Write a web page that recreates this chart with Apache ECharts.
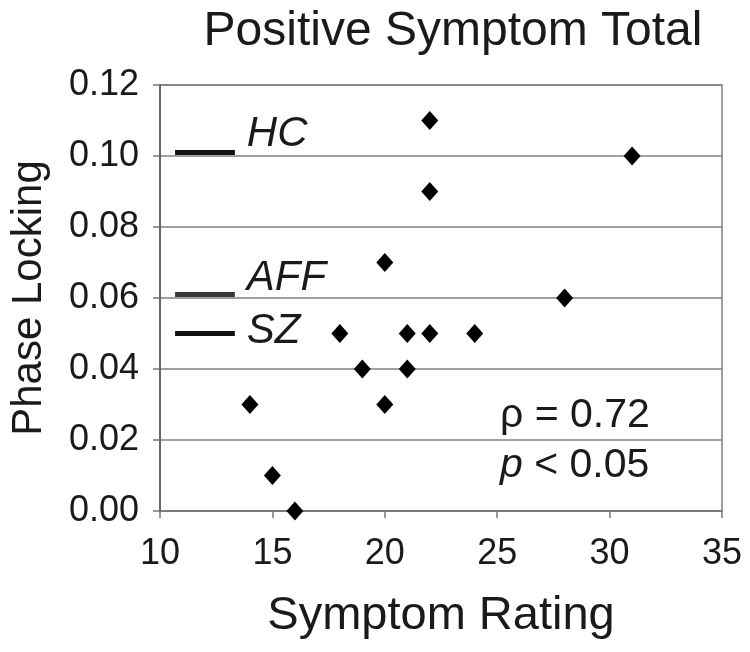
<!DOCTYPE html>
<html>
<head>
<meta charset="utf-8">
<script src="https://cdn.jsdelivr.net/npm/echarts@6/dist/echarts.min.js"></script>
<style>
html,body{margin:0;padding:0;background:#fff;}
#chart{width:750px;height:652px;}
</style>
</head>
<body>
<div id="chart"></div>
<script>
// ---- data ----
const symptomRating = [22, 22, 31, 20, 28, 18, 21, 22, 24, 19, 21, 14, 20, 15, 16];
const phaseLocking  = [0.11, 0.09, 0.10, 0.07, 0.06, 0.05, 0.05, 0.05, 0.05, 0.04, 0.04, 0.03, 0.03, 0.01, 0.00];
const groupNames = ['HC', 'AFF', 'SZ'];
const groupMeans = [0.101, 0.061, 0.050];
const groupColors = ['#111111', '#3a3a3a', '#111111'];
const meanSegmentX = [10.67, 13.33];
const xTickValues = [10, 15, 20, 25, 30, 35];
const yTickValues = [0.00, 0.02, 0.04, 0.06, 0.08, 0.10, 0.12];
const statRho = 'ρ = 0.72';
const statP = ' < 0.05';

const FONT = "'Liberation Sans', Arial, Helvetica, sans-serif";
const labelOffsets = { HC: -18, AFF: -16, SZ: -2 };

const chart = echarts.init(document.getElementById('chart'), null, { renderer: 'canvas' });

const meanSeries = groupNames.map((g, i) => ({
  name: g,
  type: 'line',
  data: meanSegmentX.map(x => [x, groupMeans[i]]),
  symbol: 'none',
  lineStyle: { color: groupColors[i], width: 5 },
  silent: true,
  z: 3,
  endLabel: {
    show: true,
    distance: 12,
    offset: [0, labelOffsets[g]],
    formatter: g,
    fontFamily: FONT,
    fontStyle: 'italic',
    fontSize: 42,
    color: '#1a1a1a'
  }
}));

chart.setOption({
  animation: false,
  backgroundColor: '#ffffff',
  title: {
    text: 'Positive Symptom Total',
    left: 448,
    top: 3,
    textAlign: 'center',
    textStyle: { fontFamily: FONT, fontSize: 48, fontWeight: 'normal', color: '#1a1a1a' }
  },
  grid: {
    left: 160, right: 28, top: 85, bottom: 141,
    show: true, borderColor: '#808080', borderWidth: 1.5, backgroundColor: 'transparent'
  },
  xAxis: {
    type: 'value',
    min: xTickValues[0], max: xTickValues[xTickValues.length - 1], interval: 5,
    name: 'Symptom Rating',
    nameLocation: 'middle',
    nameGap: 82,
    nameTextStyle: { fontFamily: FONT, fontSize: 47, color: '#1a1a1a' },
    axisLine: { show: true, onZero: false, lineStyle: { color: '#777777', width: 1.5 } },
    axisTick: { show: true, inside: false, length: 7, lineStyle: { color: '#777777', width: 1.5 } },
    axisLabel: { margin: 25, fontFamily: FONT, fontSize: 36, color: '#1a1a1a' },
    splitLine: { show: false }
  },
  yAxis: {
    type: 'value',
    min: yTickValues[0], max: yTickValues[yTickValues.length - 1], interval: 0.02,
    name: 'Phase Locking',
    nameLocation: 'middle',
    nameGap: 110,
    nameTextStyle: { fontFamily: FONT, fontSize: 42, color: '#1a1a1a' },
    axisLine: { show: true, onZero: false, lineStyle: { color: '#555555', width: 1.5 } },
    axisTick: { show: true, inside: false, length: 7, lineStyle: { color: '#777777', width: 1.5 } },
    axisLabel: { margin: 21, fontFamily: FONT, fontSize: 36, color: '#1a1a1a', formatter: v => v.toFixed(2) },
    splitLine: { show: true, lineStyle: { color: '#808080', width: 1.5 } }
  },
  graphic: [{
    type: 'text',
    left: 500,
    top: 395,
    z: 10,
    style: {
      text: '{r|' + statRho + '}\n{i|p}{r|' + statP + '}',
      rich: {
        r: { fontFamily: FONT, fontSize: 41, lineHeight: 50, fill: '#1a1a1a' },
        i: { fontFamily: FONT, fontSize: 41, lineHeight: 50, fontStyle: 'italic', fill: '#1a1a1a' }
      }
    }
  }],
  series: [
    ...meanSeries,
    {
      name: 'Subjects',
      type: 'scatter',
      data: symptomRating.map((x, i) => [x, phaseLocking[i]]),
      symbol: 'diamond',
      symbolSize: [17, 19],
      itemStyle: { color: '#000000', opacity: 1 },
      z: 4
    }
  ]
});
</script>
</body>
</html>
